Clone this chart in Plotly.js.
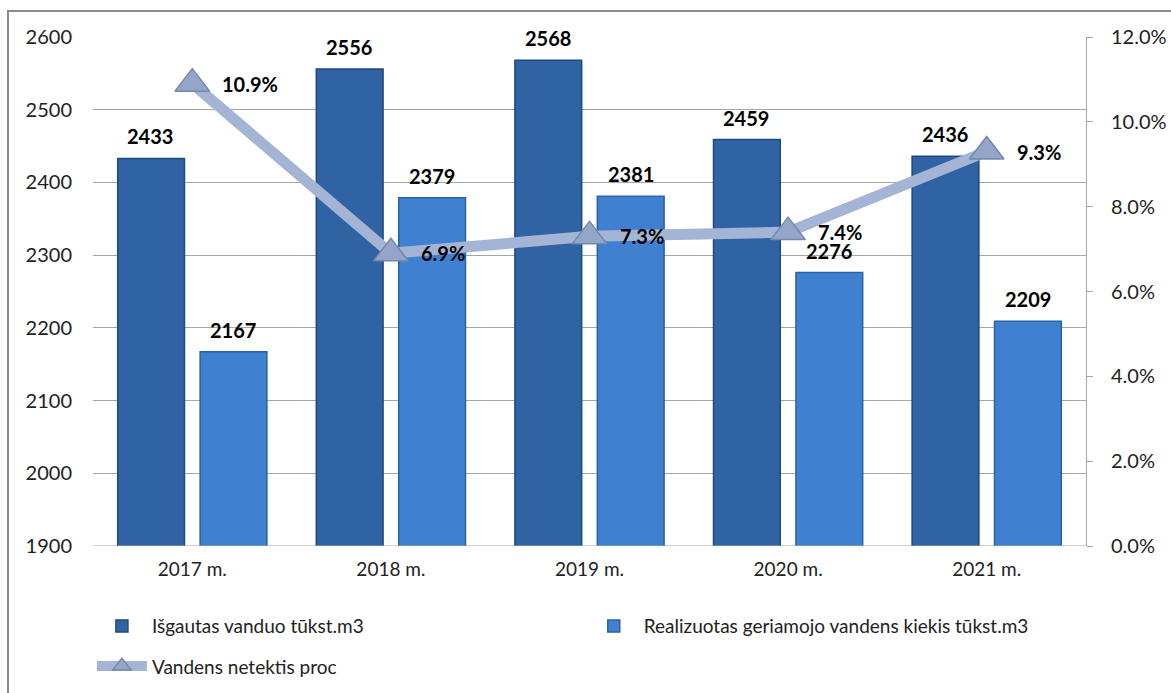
<!DOCTYPE html>
<html>
<head>
<meta charset="utf-8">
<script src="https://cdn.plot.ly/plotly-3.0.1.min.js"></script>
<style>html,body{margin:0;padding:0;background:#fff;}#chart{width:1171px;height:693px;}</style>
</head>
<body>
<div id="chart"></div>
<script>
const years = ["2017 m.", "2018 m.", "2019 m.", "2020 m.", "2021 m."];
const extracted = [2433, 2556, 2568, 2459, 2436];
const sold = [2167, 2379, 2381, 2276, 2209];
const lossPct = [0.109, 0.069, 0.073, 0.074, 0.093];
const nameExtracted = "Išgautas vanduo tūkst.m3";
const nameSold = "Realizuotas geriamojo vandens kiekis tūkst.m3";
const nameLoss = "Vandens netektis proc";

const FONT = "Lato, 'Open Sans', sans-serif";

const traces = [
  {type: "bar", name: nameExtracted, x: years, y: extracted, legend: "legend",
   marker: {color: "#2f63a3", line: {color: "#1f4a80", width: 1.5}}, hoverinfo: "skip"},
  {type: "bar", name: nameSold, x: years, y: sold, legend: "legend2",
   marker: {color: "#3f80d0", line: {color: "#2a62a8", width: 1.5}}, hoverinfo: "skip"},
  {type: "scatter", mode: "lines+markers", name: nameLoss, x: years, y: lossPct, yaxis: "y2", legend: "legend3",
   line: {color: "#a3b4d4", width: 11},
   marker: {symbol: "triangle-up", size: 30, color: "#93a6c9", line: {color: "#7488ad", width: 1.5}},
   cliponaxis: false, hoverinfo: "skip"}
];

const annotations = [];
years.forEach((yr, i) => {
  annotations.push({x: yr, y: extracted[i], xref: "x", yref: "y", text: "<b>" + extracted[i] + "</b>",
    showarrow: false, xshift: -42, yshift: 22, font: {family: FONT, size: 20, color: "#000"}});
  annotations.push({x: yr, y: sold[i], xref: "x", yref: "y", text: "<b>" + sold[i] + "</b>",
    showarrow: false, xshift: 41, yshift: 22, font: {family: FONT, size: 20, color: "#000"}});
  annotations.push({x: yr, y: lossPct[i], xref: "x", yref: "y2", text: "<b>" + (lossPct[i] * 100).toFixed(1) + "%</b>",
    showarrow: false, xanchor: "left", xshift: 28, yshift: 0, font: {family: FONT, size: 20, color: "#000"}});
});

const legendFont = {family: FONT, size: 19, color: "#222"};
const legendBase = {orientation: "h", xref: "container", yref: "container", xanchor: "left",
  yanchor: "top", font: legendFont, itemwidth: 50};

const layout = {
  width: 1171, height: 693,
  margin: {l: 93, r: 85, t: 37, b: 147, autoexpand: false},
  paper_bgcolor: "#fff", plot_bgcolor: "#fff",
  font: {family: FONT, size: 19, color: "#222"},
  barmode: "group", bargap: 0.17, bargroupgap: 0.19,
  xaxis: {type: "category", showgrid: false, showline: false, ticks: "",
    tickfont: {family: FONT, size: 19, color: "#222"}, ticklabelstandoff: 10},
  yaxis: {range: [1900, 2600], dtick: 100, showgrid: true, gridcolor: "#a6a6a6", gridwidth: 1,
    zeroline: false, showline: false, ticks: "", ticklabelstandoff: 20,
    tickfont: {family: FONT, size: 20, color: "#222"}},
  yaxis2: {overlaying: "y", side: "right", range: [0, 0.12], dtick: 0.02, tickformat: ".1%",
    showgrid: false, zeroline: false, showline: true, linecolor: "#a6a6a6", linewidth: 1,
    ticks: "outside", ticklen: 6, tickcolor: "#a6a6a6", ticklabelstandoff: 14,
    tickfont: {family: FONT, size: 20, color: "#222"}},
  legend: Object.assign({}, legendBase, {x: 0.0785, y: 0.124}),
  legend2: Object.assign({}, legendBase, {x: 0.4985, y: 0.124}),
  legend3: Object.assign({}, legendBase, {x: 0.0785, y: 0.066}),
  shapes: [
    {type: "rect", xref: "paper", yref: "paper", x0: -0.0856, x1: 1.2, y0: -0.4, y1: 1.051,
     line: {color: "#8c8c8c", width: 2}, fillcolor: "rgba(0,0,0,0)", layer: "below"},
    {type: "line", xref: "paper", yref: "y", x0: 0, x1: 1, y0: 1900, y1: 1900,
     line: {color: "#a6a6a6", width: 1}}
  ],
  annotations: annotations,
  showlegend: true
};

Plotly.newPlot("chart", traces, layout, {displayModeBar: false, staticPlot: true});
</script>
</body>
</html>
